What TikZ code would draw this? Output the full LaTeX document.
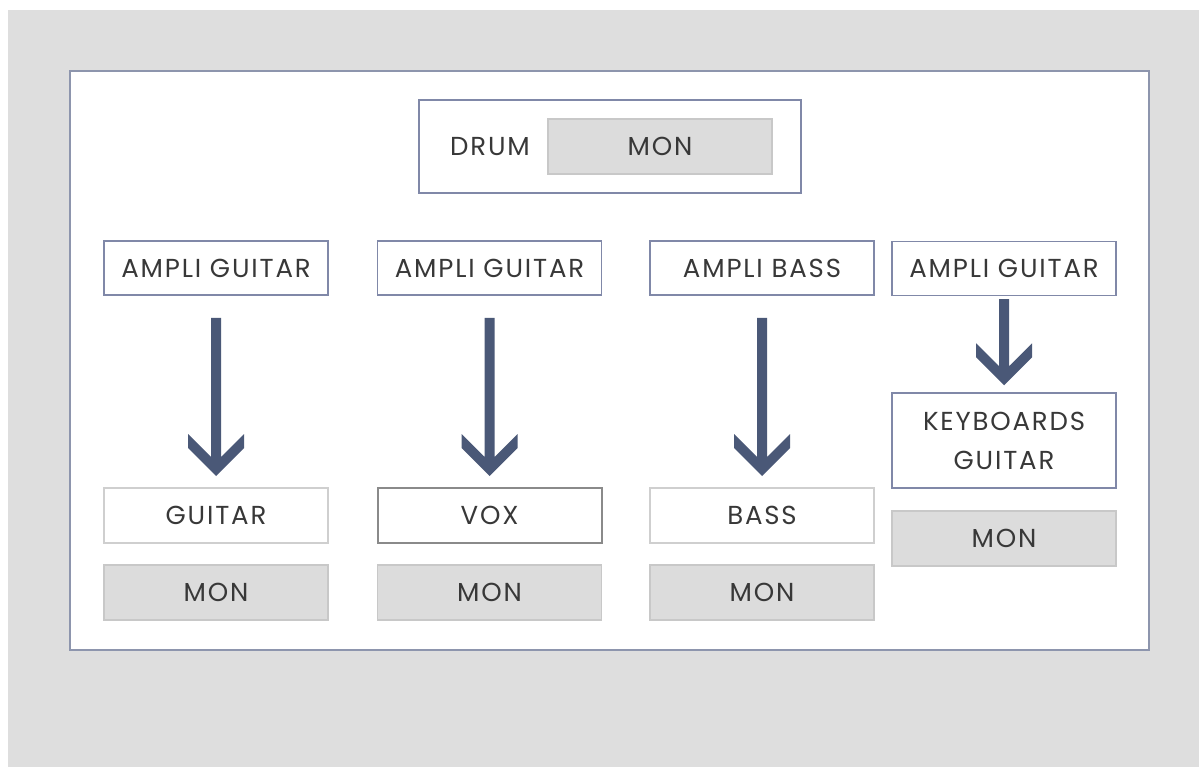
\documentclass[tikz,border=0pt]{standalone}
\usepackage{fontspec}
\setmainfont{Poppins}[LetterSpace=7]
\usetikzlibrary{calc}
\definecolor{bggray}{HTML}{DEDEDE}
\definecolor{framec}{HTML}{8D95AD}
\definecolor{amplic}{HTML}{8088A8}
\definecolor{lightb}{HTML}{CFCFCF}
\definecolor{voxb}{HTML}{8A8A8A}
\definecolor{monfill}{HTML}{DCDCDC}
\definecolor{monb}{HTML}{C8C8C8}
\definecolor{flowc}{HTML}{4A5877}
\definecolor{txtc}{HTML}{383838}
\newcommand\flowarrow[4]{%
  \fill[flowc] let \p1=(#1.south), \p2=(#2.north) in
  (\x1-5pt,\y1-#3pt) -- (\x1-5pt,\y2+#4pt+19pt) -- (\x1-28pt,\y2+#4pt+42pt)
  -- (\x1-28pt,\y2+#4pt+28pt) -- (\x1,\y2+#4pt) -- (\x1+28pt,\y2+#4pt+28pt)
  -- (\x1+28pt,\y2+#4pt+42pt) -- (\x1+5pt,\y2+#4pt+19pt) -- (\x1+5pt,\y1-#3pt) -- cycle;}
\begin{document}
\begin{tikzpicture}[x=1pt,y=-1pt,
  every node/.style={font=\fontsize{26}{39}\selectfont, text=txtc, inner sep=0pt},
  amplibox/.style={draw=amplic, line width=1.5pt, fill=white, minimum width=224pt, minimum height=54pt},
  lightbox/.style={draw=lightb, line width=2pt, fill=white, minimum width=224pt, minimum height=55pt},
  voxbox/.style={draw=voxb, line width=2pt, fill=white, minimum width=224pt, minimum height=55pt},
  monbox/.style={draw=monb, line width=1.5pt, fill=monfill, minimum width=224pt, minimum height=55pt}]
\useasboundingbox (0,0) rectangle (1199,767);
\fill[white] (0,0) rectangle (1199,767);
\fill[bggray] (8,10) rectangle (1199,767);
\draw[draw=framec, line width=2.5pt, fill=white] (70,71) rectangle (1149,650);
% drum
\node[draw=amplic, line width=1.5pt, fill=white, minimum width=382pt, minimum height=93pt] (drumbox) at (610,146.5) {};
\node (drum) at (490,146.5) {DRUM};
\node[monbox] (drummon) at (660,146.5) {MON};
% column 1
\node[amplibox] (a1) at (216,268) {AMPLI GUITAR};
\node[lightbox] (g1) at (216,515.5) {GUITAR};
\node[monbox] (m1) at (216,592.5) {MON};
% column 2
\node[amplibox] (a2) at (489.5,268) {AMPLI GUITAR};
\node[voxbox] (g2) at (489.5,515.5) {VOX};
\node[monbox] (m2) at (489.5,592.5) {MON};
% column 3
\node[amplibox] (a3) at (762,268) {AMPLI BASS};
\node[lightbox] (g3) at (762,515.5) {BASS};
\node[monbox] (m3) at (762,592.5) {MON};
% column 4
\node[amplibox] (a4) at (1004,268.5) {AMPLI GUITAR};
\node[amplibox, minimum height=95pt, align=center] (g4) at (1004,440.5) {KEYBOARDS\\GUITAR};
\node[monbox] (m4) at (1004,538.5) {MON};
% arrows
\flowarrow{a1}{g1}{22}{11}
\flowarrow{a2}{g2}{22}{11}
\flowarrow{a3}{g3}{22}{11}
\flowarrow{a4}{g4}{3}{7}
\end{tikzpicture}
\end{document}
